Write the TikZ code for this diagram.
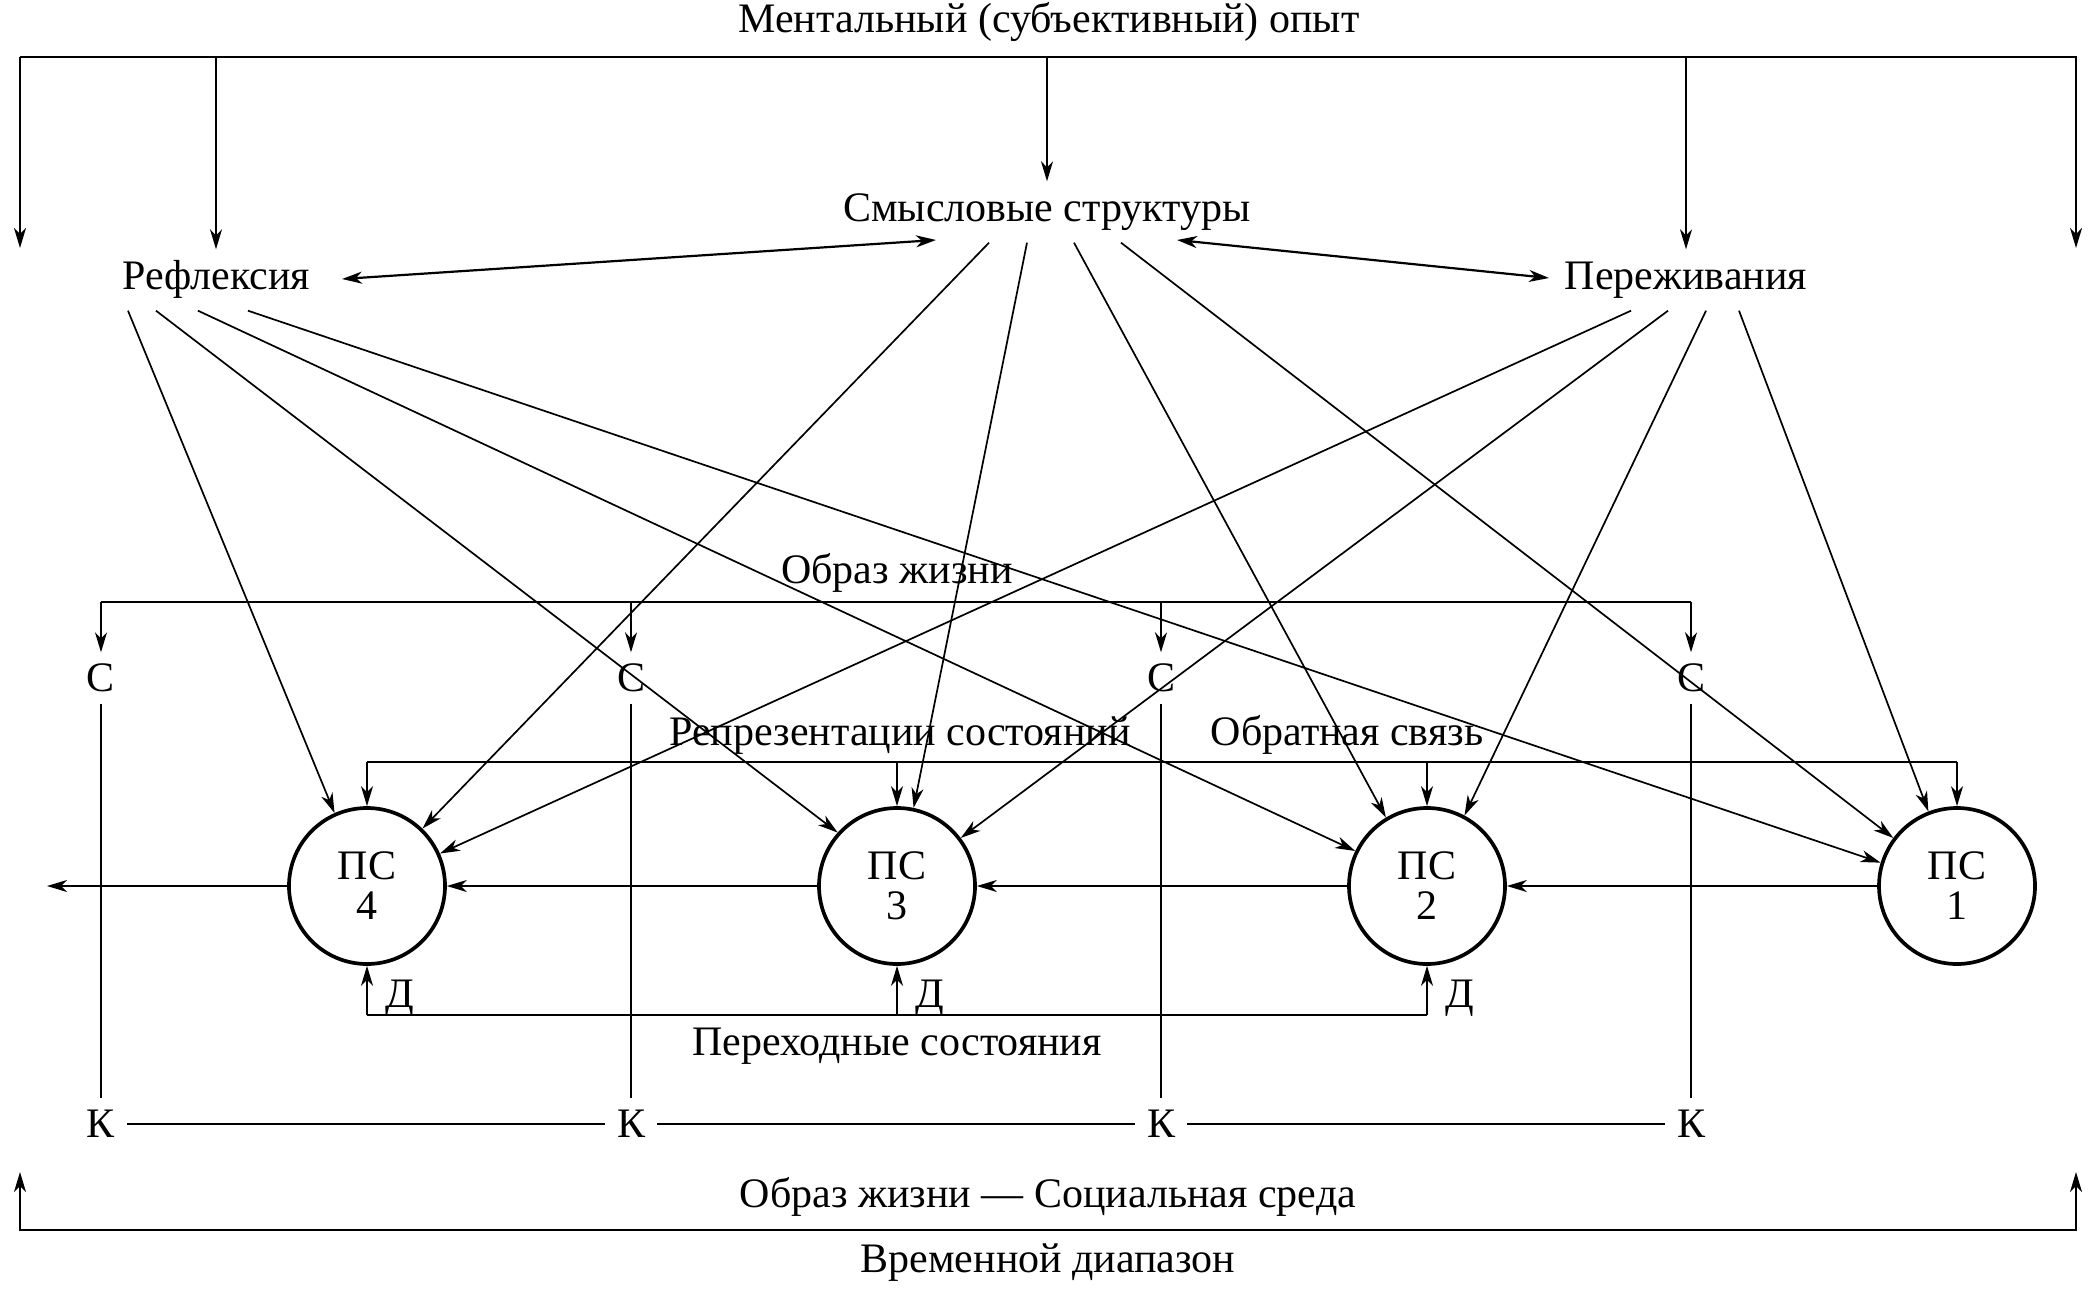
\documentclass[tikz,border=0pt]{standalone}
\usepackage{fontspec}
\setmainfont{Liberation Serif}
\usetikzlibrary{arrows.meta}
\begin{document}
\begin{tikzpicture}[x=1pt,y=-1pt,
  every node/.style={font=\fontsize{42}{40}\selectfont},
  thinline/.style={line width=1.7pt},
  tip/.tip={Stealth[length=20pt,width=12pt,inset=6pt]},
  arr/.style={thinline,-tip},
  darr/.style={line width=2.2pt,tip-tip},
  mainlbl/.style={inner xsep=0pt, inner ysep=12pt, text height=28pt, text depth=9pt},
  letter/.style={inner sep=12pt, text height=27pt, text depth=0pt},
  psnode/.style={circle, draw, line width=3.7pt, minimum size=156pt, inner sep=0pt, align=center},
  plainlbl/.style={inner sep=0pt, anchor=base}
]
\fill[white] (0,0) rectangle (2100,1289);
\useasboundingbox (0,0) rectangle (2100,1289);

% top labels
\node[plainlbl] (title) at (1049,33) {Ментальный (субъективный) опыт};
\node[mainlbl] (refl) at (216,280) {Рефлексия};
\node[mainlbl] (smysl) at (1047,212) {Смысловые структуры};
\node[mainlbl] (perezh) at (1686,280) {Переживания};

\coordinate (topy) at (0,57);
\coordinate (tl) at (20,248);
\coordinate (tr) at (2076,248);
\draw[thinline,-tip] (tl|-topy) -- (tr|-topy) -- (tr);
\draw[arr] (tl|-topy) -- (tl);
\draw[arr] (refl.north|-topy) -- (refl.north);
\draw[arr] (smysl.north|-topy) -- (smysl.north);
\draw[arr] (perezh.north|-topy) -- (perezh.north);

\draw[darr] ([shift={(126,-1)}]refl.center) -- ([shift={(-111,28)}]smysl.center);
\draw[darr] ([shift={(130,28)}]smysl.center) -- ([shift={(-137,-2)}]perezh.center);

% states
\node[psnode] (ps4) at (367,886) {ПС\\4};
\node[psnode] (ps3) at (897,886) {ПС\\3};
\node[psnode] (ps2) at (1427,886) {ПС\\2};
\node[psnode] (ps1) at (1957,886) {ПС\\1};
\coordinate (outl) at (47,886);
\draw[arr] (ps1) -- (ps2);
\draw[arr] (ps2) -- (ps3);
\draw[arr] (ps3) -- (ps4);
\draw[arr] (ps4) -- (outl);

% C and K
\foreach \i/\x in {1/101,2/631,3/1161,4/1691}{
  \node[letter] (c\i) at (\x,678) {С};
  \node[letter] (k\i) at (\x,1124) {К};
}
\coordinate (ly) at (0,602);
\draw[thinline] (c1.north|-ly) -- (c4.north|-ly);
\foreach \i in {1,2,3,4}{
  \draw[arr] (c\i.north|-ly) -- (c\i.north);
  \draw[thinline] (c\i) -- (k\i);
}
\draw[thinline] (k1) -- (k2);
\draw[thinline] (k2) -- (k3);
\draw[thinline] (k3) -- (k4);

% representation / feedback line
\coordinate (ry) at (0,762);
\draw[thinline] (ps4.north|-ry) -- (ps1.north|-ry);
\foreach \i in {1,2,3,4}{
  \draw[arr] (ps\i.north|-ry) -- (ps\i.north);
}

% transitional states
\coordinate (py) at (0,1015);
\draw[thinline] (ps4.south|-py) -- (ps2.south|-py);
\foreach \i in {2,3,4}{
  \draw[arr] (ps\i.south|-py) -- (ps\i.south);
  \node[plainlbl] (d\i) at ([shift={(33,121)}]ps\i.center) {Д};
}

% labels
\node[plainlbl] (obraz) at (897,583) {Образ жизни};
\node[plainlbl] (repr) at (900,745) {Репрезентации состояний};
\node[plainlbl] (obr) at (1347,745) {Обратная связь};
\node[plainlbl] (perekh) at (897,1055) {Переходные состояния};
\node[plainlbl] (soc) at (1048,1207) {Образ жизни — Социальная среда};
\node[plainlbl] (vrem) at (1048,1272) {Временной диапазон};

% bottom bracket
\coordinate (by) at (0,1230);
\coordinate (bl) at (20,1172);
\coordinate (br) at (2076,1172);
\draw[thinline,tip-tip] (bl) -- (bl|-by) -- (br|-by) -- (br);

% diagonals from Рефлексия
\draw[arr] ([xshift=-88pt]refl.south) -- (ps4.114);
\draw[arr] ([xshift=-60pt]refl.south) -- (ps3.138);
\draw[arr] ([xshift=-18pt]refl.south) -- (ps2.154);
\draw[arr] ([xshift=32pt]refl.south) -- (ps1.163);
% from Смысловые структуры
\draw[arr] ([xshift=-58pt]smysl.south) -- (ps4.46);
\draw[arr] ([xshift=-20pt]smysl.south) -- (ps3.78);
\draw[arr] ([xshift=27pt]smysl.south) -- (ps2.121);
\draw[arr] ([xshift=74pt]smysl.south) -- (ps1.143);
% from Переживания
\draw[arr] ([xshift=-55pt]perezh.south) -- (ps4.24);
\draw[arr] ([xshift=-18pt]perezh.south) -- (ps3.37);
\draw[arr] ([xshift=20pt]perezh.south) -- (ps2.62);
\draw[arr] ([xshift=53pt]perezh.south) -- (ps1.111);
\end{tikzpicture}
\end{document}
